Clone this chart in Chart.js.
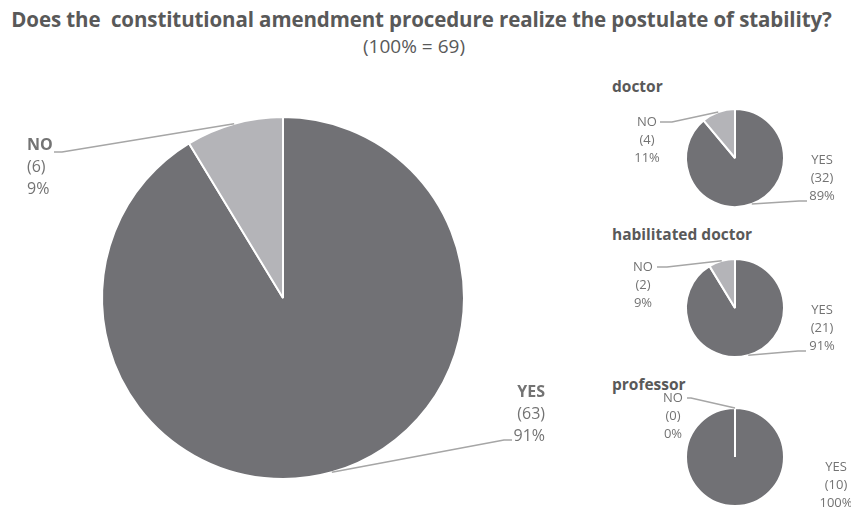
<!DOCTYPE html>
<html>
<head>
<meta charset="utf-8">
<script src="https://cdn.jsdelivr.net/npm/chart.js@4.4.1/dist/chart.umd.min.js"></script>
<style>
  body { margin: 0; width: 851px; height: 508px; overflow: hidden; background: #fff; position: relative; font-family: "Open Sans", sans-serif; }
  canvas { position: absolute; }
  .txt { position: absolute; white-space: nowrap; color: #595959; }
  #title { left: 0; width: 843px; top: 5px; text-align: center; font-weight: bold; font-size: 20.5px; letter-spacing: -0.1px; }
  #subtitle { left: 0; width: 828px; top: 33px; text-align: center; font-size: 19px; }
  .group { left: 612px; font-weight: bold; font-size: 15.5px; }
</style>
</head>
<body>
<div id="title" class="txt">Does the&nbsp; constitutional amendment procedure realize the postulate of stability?</div>
<div id="subtitle" class="txt">(100% = 69)</div>
<div class="txt group" style="top:75px">doctor</div>
<div class="txt group" style="top:223px">habilitated doctor</div>
<div class="txt group" style="top:373px">professor</div>

<canvas id="all" width="600" height="448" style="left:0;top:60px"></canvas>
<canvas id="doctor" width="251" height="150" style="left:600px;top:83px"></canvas>
<canvas id="habilitated" width="251" height="150" style="left:600px;top:233px"></canvas>
<canvas id="professor" width="251" height="150" style="left:600px;top:382px"></canvas>

<script>
// answers and counts
const answers = ['YES', 'NO'];
const allCounts = [63, 6];
const doctorCounts = [32, 4];
const habilitatedCounts = [21, 2];
const professorCounts = [10, 0];

const sliceColors = ['#717175', '#b4b4b8'];

// draws "LABEL / (n) / p%" with a leader line to the slice edge
const callouts = {
  id: 'callouts',
  afterDatasetsDraw(chart, args, opts) {
    const ctx = chart.ctx;
    const meta = chart.getDatasetMeta(0);
    const values = chart.data.datasets[0].data;
    const total = values.reduce((a, b) => a + b, 0);
    ctx.save();
    opts.items.forEach((it, i) => {
      const arc = meta.data[i];
      const p = arc.getProps(['x', 'y', 'startAngle', 'endAngle', 'outerRadius'], true);
      const mid = (p.startAngle + p.endAngle) / 2;
      const ex = p.x + Math.cos(mid) * p.outerRadius;
      const ey = p.y + Math.sin(mid) * p.outerRadius;
      if (it.line) {
        ctx.strokeStyle = '#a6a6a6';
        ctx.lineWidth = 1.5;
        ctx.beginPath();
        ctx.moveTo(it.line[0], it.line[1]);
        ctx.lineTo(it.line[0] + (it.elbow || 0), it.line[1]);
        ctx.lineTo(ex, ey);
        ctx.stroke();
      }
      const rows = [chart.data.labels[i], '(' + values[i] + ')', Math.round(values[i] / total * 100) + '%'];
      ctx.fillStyle = '#737373';
      ctx.textAlign = it.align;
      ctx.textBaseline = 'middle';
      rows.forEach((r, k) => {
        ctx.font = (k === 0 && opts.boldFirst ? 'bold ' : '') + opts.size + 'px "Open Sans"';
        ctx.fillText(r, it.x, it.y + k * opts.gap);
      });
    });
    ctx.restore();
  }
};

function makePie(id, counts, border, padding, labelOpts) {
  return new Chart(document.getElementById(id), {
    type: 'pie',
    data: {
      labels: answers,
      datasets: [{
        data: counts,
        backgroundColor: sliceColors,
        borderColor: '#ffffff',
        borderWidth: border
      }]
    },
    options: {
      responsive: false,
      animation: false,
      events: [],
      layout: { padding: padding },
      plugins: {
        legend: { display: false },
        tooltip: { enabled: false },
        callouts: labelOpts
      }
    },
    plugins: [callouts]
  });
}

makePie('all', allCounts, 2, { left: 101, right: 135, top: 56, bottom: 28 }, {
  size: 16, gap: 22, boldFirst: true,
  items: [
    { x: 545, y: 332, align: 'right', line: [512, 380], elbow: -8 },
    { x: 27, y: 85, align: 'left', line: [54, 92], elbow: 8 }
  ]
});

const smallPad = { left: 85, right: 66, top: 25, bottom: 25 };

makePie('doctor', doctorCounts, 2, smallPad, {
  size: 13, gap: 18, boldFirst: false,
  items: [
    { x: 222, y: 77, align: 'center', line: [207, 118], elbow: -8 },
    { x: 47, y: 39, align: 'center', line: [60, 39], elbow: 12 }
  ]
});

makePie('habilitated', habilitatedCounts, 2, smallPad, {
  size: 13, gap: 18, boldFirst: false,
  items: [
    { x: 222, y: 77, align: 'center', line: [206, 118], elbow: -8 },
    { x: 43, y: 34, align: 'center', line: [57, 34], elbow: 10 }
  ]
});

makePie('professor', professorCounts, 2, smallPad, {
  size: 13, gap: 18, boldFirst: false,
  items: [
    { x: 236, y: 85, align: 'center' },
    { x: 73, y: 16, align: 'center', line: [87, 16], elbow: 4 }
  ]
});
</script>
</body>
</html>
